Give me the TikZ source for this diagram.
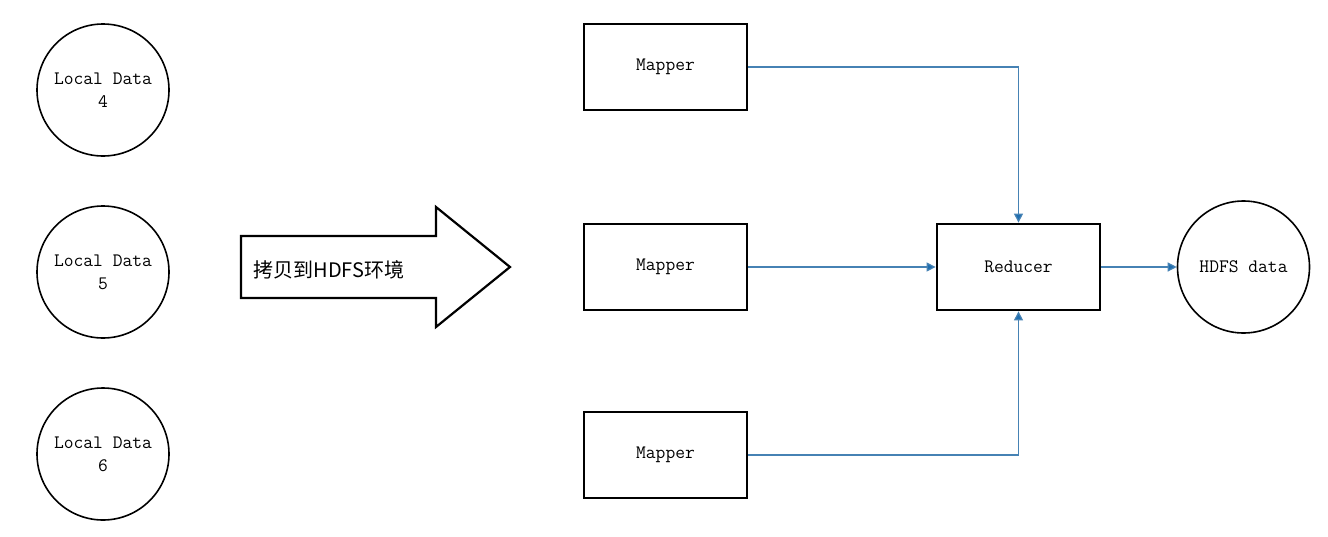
\documentclass[tikz,border=0pt]{standalone}
\usepackage{fontspec}
\newfontfamily\cjk{Noto Sans CJK SC}
\usetikzlibrary{arrows.meta}
\definecolor{linkblue}{RGB}{70,130,180}
\definecolor{tipblue}{RGB}{31,110,175}
\begin{document}
\begin{tikzpicture}[x=1pt,y=-1pt,
  font=\ttfamily\fontsize{19}{23}\selectfont,
  datacircle/.style={draw, line width=1.6pt, circle, minimum size=132pt, inner sep=0pt, align=center},
  procbox/.style={draw, line width=2.8pt, minimum width=163pt, minimum height=86pt, inner sep=0pt},
  link/.style={draw=linkblue, line width=1.2pt, -{Triangle[length=9pt,width=9pt,fill=tipblue]}}]
\useasboundingbox (0,0) rectangle (1328,536);
\node[datacircle] (ld4) at (103,90) {Local Data\\4};
\node[datacircle] (ld5) at (103,272) {Local Data\\5};
\node[datacircle] (ld6) at (103,454) {Local Data\\6};
\draw[line width=2.2pt, line join=miter] (241,236) -- (436,236) -- (436,207) -- (510,267) -- (436,327) -- (436,298) -- (241,298) -- cycle;
\node[anchor=west, font=\cjk\fontsize{20}{24}\selectfont] (copy) at (250,270) {拷贝到HDFS环境};
\node[procbox] (m1) at (665.5,67) {Mapper};
\node[procbox] (m2) at (665.5,267) {Mapper};
\node[procbox] (m3) at (665.5,455) {Mapper};
\node[procbox] (red) at (1018.5,267) {Reducer};
\node[datacircle] (hd) at (1243.5,267) {HDFS data};
\draw[link] (m1.east) -| (red.north);
\draw[link] (m2.east) -- (red.west);
\draw[link] (m3.east) -| (red.south);
\draw[link] (red.east) -- (hd.west);
\end{tikzpicture}
\end{document}
